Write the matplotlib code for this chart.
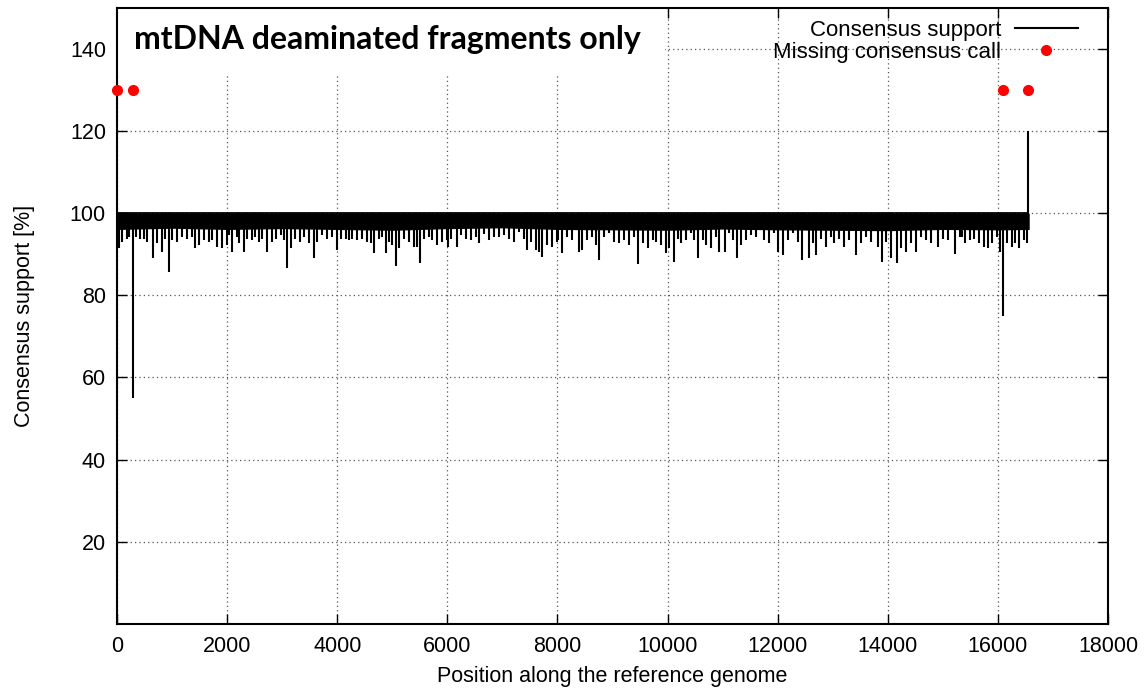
import matplotlib
matplotlib.use("Agg")
import matplotlib.pyplot as plt

plt.rcParams['font.family'] = ['Liberation Sans', 'DejaVu Sans']

# visible downward spikes of the consensus support line (position, value)
dip_pos = [
    42, 91, 182, 224, 345, 424, 485, 545, 648, 727, 818, 879, 939, 1000, 1091, 1182, 1273, 1364,
    1424, 1485, 1576, 1667, 1727, 1818, 1909, 1995,
    2030, 2091, 2182, 2212, 2303, 2364, 2455, 2515, 2576, 2636, 2727, 2818, 2879, 2970, 3030,
    3091, 3152, 3242, 3333, 3394, 3485, 3576, 3636, 3727, 3818, 3909,
    4000, 4061, 4152, 4212, 4273, 4364, 4455, 4545, 4606, 4667, 4758, 4818, 4879, 4939, 5000,
    5061, 5121, 5212, 5303, 5394, 5455, 5497, 5576, 5667, 5727, 5818, 5909, 5990,
    6010, 6061, 6182, 6242, 6333, 6424, 6515, 6576, 6667, 6758, 6848, 6939, 7030, 7121, 7212,
    7303, 7394, 7455, 7515, 7606, 7667, 7727, 7818, 7909, 7995,
    8005, 8091, 8182, 8273, 8394, 8455, 8545, 8636, 8697, 8758, 8848, 8939, 9030, 9121, 9212,
    9303, 9394, 9467, 9545, 9636, 9727, 9788, 9879, 9970,
    10030, 10115, 10182, 10242, 10333, 10424, 10485, 10558, 10636, 10697, 10788, 10879, 10939,
    11042, 11121, 11182, 11261, 11333, 11424, 11515, 11606, 11667, 11758, 11848, 11939,
    12012, 12091, 12182, 12273, 12364, 12442, 12485, 12576, 12636, 12697, 12788, 12879, 12970,
    13030, 13121, 13212, 13303, 13424, 13515, 13606, 13697, 13818, 13891, 13970,
    14061, 14170, 14242, 14333, 14424, 14515, 14606, 14697, 14788, 14909, 15000, 15091, 15212,
    15303, 15345, 15406, 15497, 15558, 15648, 15739, 15812, 15891, 15982,
    16042, 16164, 16255, 16315, 16376, 16467, 16527,
]
dip_val = [
    91.4, 93.0, 93.8, 94.2, 94.2, 93.8, 93.8, 93.0, 89.1, 92.6, 90.6, 93.8, 85.7, 93.4, 93.0, 94.2, 93.8, 94.2,
    91.4, 92.2, 93.4, 93.0, 93.4, 91.8, 91.4, 92.2,
    94.6, 90.6, 94.2, 92.6, 90.6, 93.8, 93.4, 94.2, 93.0, 93.8, 90.6, 93.0, 93.8, 94.6, 93.4,
    86.6, 91.4, 93.8, 93.0, 94.2, 92.6, 89.0, 93.0, 94.6, 93.8, 94.2,
    91.0, 93.8, 93.8, 93.4, 93.8, 93.4, 93.8, 93.0, 92.6, 90.2, 93.8, 94.2, 90.2, 93.0, 92.2,
    87.0, 91.4, 93.8, 93.0, 91.8, 91.8, 87.8, 93.8, 94.2, 93.4, 92.2, 93.0, 93.4,
    91.8, 93.8, 91.8, 94.6, 93.8, 93.4, 94.2, 92.6, 95.0, 93.4, 94.2, 94.2, 94.6, 93.8, 93.0,
    95.4, 93.8, 91.0, 93.0, 91.0, 90.6, 89.4, 92.2, 91.8, 93.0,
    93.4, 90.2, 94.2, 93.4, 90.6, 91.0, 93.4, 94.2, 92.2, 88.6, 94.2, 95.1, 93.0, 92.6, 93.4,
    92.2, 94.2, 87.6, 92.6, 91.4, 93.4, 93.0, 92.2, 90.2,
    91.4, 88.0, 93.8, 92.6, 93.4, 95.1, 93.4, 89.1, 93.4, 92.2, 91.4, 94.2, 90.6,
    90.6, 95.1, 93.4, 89.1, 92.2, 93.4, 94.6, 94.2, 96.9, 93.4, 92.6, 95.1,
    90.6, 89.8, 93.4, 95.1, 93.0, 88.6, 97.0, 89.1, 92.6, 89.8, 93.8, 91.8, 94.2,
    92.6, 93.8, 91.8, 93.4, 89.8, 92.6, 94.2, 93.0, 91.8, 88.2, 93.0,
    89.1, 87.8, 91.4, 90.6, 92.6, 90.6, 94.2, 93.4, 92.6, 91.8, 93.8, 93.4, 90.0,
    94.2, 94.2, 92.6, 93.4, 93.8, 92.6, 91.8, 91.4, 92.6, 94.2,
    90.6, 92.6, 91.8, 92.6, 91.4, 93.4, 92.6,
]

# lower edge of the solid part of the band, every 1000 positions
core_pos = [0, 1000, 2000, 3000, 4000, 5000, 6000, 7000, 8000, 9000, 10000,
            11000, 12000, 13000, 14000, 15000, 16000, 16569]
core_val = [96.0, 96.3, 96.0, 96.2, 96.0, 95.8, 96.2, 96.4, 96.0, 95.9, 95.8,
            96.1, 95.9, 95.8, 95.7, 96.0, 95.9, 96.0]

# isolated extreme values
spike_pos = [290, 16085, 16550]
spike_val = [55, 75, 120]

# positions without a consensus call
missing_pos = [5, 290, 16085, 16550]
missing_val = [130, 130, 130, 130]

fig = plt.figure(figsize=(11.47, 6.91), dpi=100)
ax = fig.add_axes([0.102, 0.097, 0.864, 0.892])
fs = 15.5

ax.fill_between(core_pos, core_val, 100, color='black', lw=0, zorder=3)
ax.vlines(dip_pos, dip_val, 100, color='black', lw=1.5, zorder=3)
ax.vlines(spike_pos, [min(v, 100) for v in spike_val], [max(v, 100) for v in spike_val],
          color='black', lw=1.5, zorder=3)
ax.hlines(100, 0, 16569, color='black', lw=1.3, zorder=3)
ax.plot(missing_pos, missing_val, 'o', color='red', ms=7, zorder=4, clip_on=False)

ax.set_xlim(0, 18000)
ax.set_ylim(0, 150)
ax.set_xticks(range(0, 18001, 2000))
ax.set_yticks(range(20, 141, 20))
ax.tick_params(direction='in', top=True, right=True, length=7, width=1, labelsize=fs)
ax.tick_params(axis='x', pad=9)
ax.tick_params(axis='y', pad=8)
for s in ax.spines.values():
    s.set_linewidth(1.5)
ax.grid(True, linestyle=(0, (1, 2.5)), color='#555555', lw=0.9)
ax.set_axisbelow(True)

ax.set_xlabel('Position along the reference genome', fontsize=fs, labelpad=6)
ax.set_ylabel('Consensus support [%]', fontsize=fs, labelpad=25)

# white title box in the top-left corner, hides the grid behind it
box = plt.Rectangle((0, 0.8905), 0.553, 0.11, transform=ax.transAxes,
                    facecolor='white', edgecolor='none', zorder=2.5)
ax.add_patch(box)
ax.text(0.017, 0.948, 'mtDNA deaminated fragments only', transform=ax.transAxes,
        fontsize=23, fontweight='bold', family=['Lato', 'DejaVu Sans'],
        va='center', ha='left', zorder=6)

h1 = plt.Line2D([], [], color='black', lw=1.5)
h2 = plt.Line2D([], [], color='red', marker='o', ls='', ms=7)
ax.legend([h1, h2], ['Consensus support', 'Missing consensus call'],
          loc='upper right', frameon=False, markerfirst=False, fontsize=16,
          handlelength=2.8, handletextpad=0.65, borderaxespad=0.3, labelspacing=0.05,
          bbox_to_anchor=(0.985, 1.005))

fig.savefig('out.png', dpi=100)
